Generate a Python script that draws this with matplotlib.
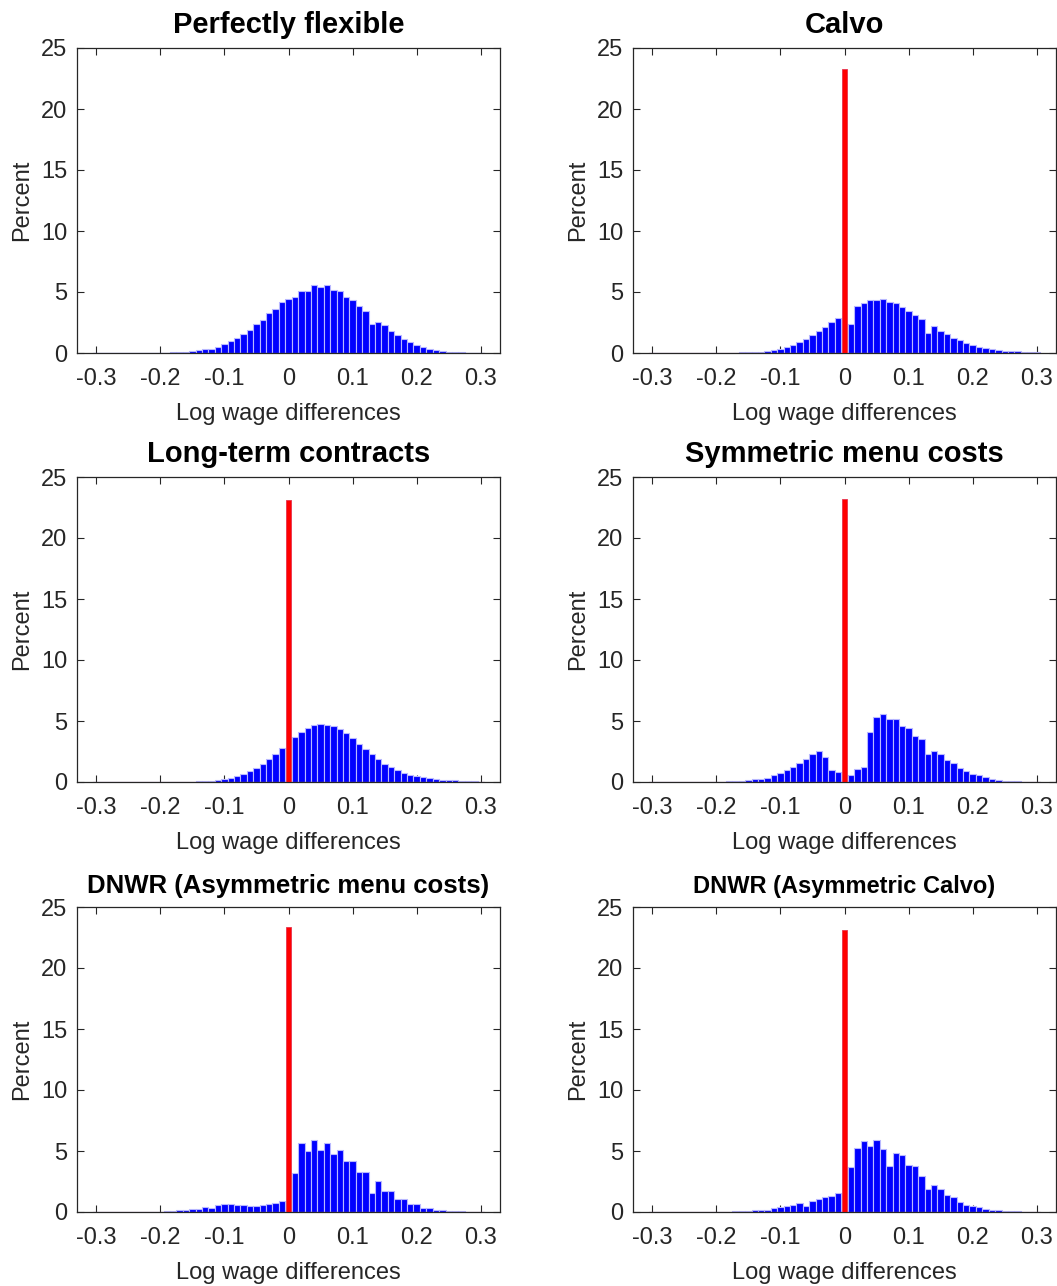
import numpy as np
import matplotlib
matplotlib.use("Agg")
import matplotlib.pyplot as plt

plt.rcParams['font.family'] = ['Liberation Sans', 'DejaVu Sans']

# ---- data -------------------------------------------------------------
bin_centers = np.linspace(-0.3, 0.3, 61)   # log wage difference bins (width 0.01)

titles = ["Perfectly flexible", "Calvo", "Long-term contracts",
          "Symmetric menu costs", "DNWR (Asymmetric menu costs)",
          "DNWR (Asymmetric Calvo)"]

flexible = [0.01, 0.01, 0.01, 0.01, 0.01, 0.01, 0.01, 0.01, 0.02, 0.02,
            0.02, 0.04, 0.05, 0.07, 0.10, 0.14, 0.22, 0.30, 0.30, 0.52,
            0.77, 0.96, 1.24, 1.57, 1.90, 2.34, 2.70, 3.24, 3.63, 4.15,
            4.45,
            4.59, 5.10, 5.10, 5.58, 5.38, 5.58, 5.14, 5.10, 4.60, 4.37,
            3.85, 3.43, 2.34, 2.55, 2.28, 1.79, 1.48, 1.13, 0.90, 0.69,
            0.49, 0.36, 0.25, 0.16, 0.11, 0.08, 0.06, 0.04, 0.03, 0.02]

calvo = [0.01, 0.01, 0.01, 0.01, 0.01, 0.01, 0.01, 0.01, 0.01, 0.02,
         0.02, 0.02, 0.02, 0.03, 0.05, 0.06, 0.08, 0.11, 0.14, 0.25,
         0.33, 0.49, 0.69, 0.90, 1.13, 1.48, 1.79, 2.14, 2.55, 2.88,
         0.00,
         2.36, 3.87, 4.07, 4.34, 4.31, 4.40, 4.20, 4.07, 3.76, 3.46,
         3.10, 2.75, 1.65, 2.20, 1.81, 1.54, 1.26, 1.04, 0.82, 0.66,
         0.52, 0.41, 0.33, 0.27, 0.19, 0.17, 0.14, 0.12, 0.10, 0.05]

long_term = [0.01, 0.01, 0.01, 0.01, 0.01, 0.01, 0.01, 0.01, 0.01, 0.01,
             0.01, 0.02, 0.02, 0.02, 0.03, 0.04, 0.05, 0.08, 0.11, 0.16,
             0.25, 0.33, 0.47, 0.66, 0.88, 1.18, 1.51, 1.90, 2.31, 2.77,
             0.00,
             3.68, 4.09, 4.42, 4.67, 4.75, 4.70, 4.62, 4.31, 3.98, 3.57,
             3.13, 2.69, 2.28, 1.87, 1.51, 1.24, 0.99, 0.74, 0.58, 0.47,
             0.38, 0.30, 0.25, 0.19, 0.16, 0.14, 0.11, 0.08, 0.06, 0.04]

symmetric_menu = [0.01, 0.01, 0.01, 0.01, 0.01, 0.01, 0.01, 0.01, 0.01, 0.01,
                  0.02, 0.04, 0.05, 0.08, 0.11, 0.16, 0.22, 0.27, 0.36, 0.57,
                  0.77, 0.98, 1.23, 1.53, 1.91, 2.30, 2.57, 2.05, 0.96, 0.82,
                  0.00,
                  0.60, 1.04, 1.26, 4.13, 5.30, 5.55, 5.16, 5.16, 4.62, 4.43,
                  3.80, 3.52, 2.32, 2.57, 2.32, 1.80, 1.56, 1.15, 0.93, 0.68,
                  0.55, 0.38, 0.25, 0.16, 0.11, 0.08, 0.06, 0.04, 0.03, 0.02]

dnwr_menu = [0.01, 0.01, 0.01, 0.01, 0.01, 0.01, 0.01, 0.01, 0.01, 0.01,
             0.02, 0.05, 0.08, 0.14, 0.16, 0.27, 0.27, 0.44, 0.33, 0.58,
             0.66, 0.63, 0.60, 0.55, 0.47, 0.47, 0.58, 0.69, 0.77, 0.91,
             0.00,
             3.21, 5.66, 4.97, 5.93, 5.05, 5.69, 4.75, 5.08, 4.15, 4.20,
             3.30, 3.24, 1.59, 2.55, 1.73, 1.73, 1.10, 1.04, 0.69, 0.63,
             0.36, 0.30, 0.16, 0.14, 0.08, 0.08, 0.05, 0.04, 0.03, 0.02]

dnwr_calvo = [0.01, 0.01, 0.01, 0.01, 0.01, 0.01, 0.01, 0.01, 0.01, 0.01,
              0.02, 0.03, 0.04, 0.08, 0.08, 0.11, 0.14, 0.19, 0.16, 0.30,
              0.38, 0.47, 0.55, 0.71, 0.52, 0.91, 1.04, 1.24, 1.35, 1.57,
              0.00,
              3.71, 5.27, 5.80, 5.38, 5.93, 5.14, 3.76, 4.81, 4.70, 3.87,
              3.79, 2.91, 1.92, 2.25, 1.92, 1.43, 1.21, 0.85, 0.55, 0.49,
              0.38, 0.25, 0.16, 0.14, 0.08, 0.06, 0.05, 0.03, 0.02, 0.01]

# mass of unchanged wages (spike at zero), percent
zero_spike = [0.0, 23.3, 23.1, 23.2, 23.4, 23.1]

x_ticks = [-0.3, -0.2, -0.1, 0, 0.1, 0.2, 0.3]
x_ticklabels = ["-0.3", "-0.2", "-0.1", "0", "0.1", "0.2", "0.3"]
y_ticks = [0, 5, 10, 15, 20, 25]

# ---- figure -----------------------------------------------------------
W, H = 1057, 1286
fig = plt.figure(figsize=(W / 100, H / 100), dpi=100)

series = [flexible, calvo, long_term, symmetric_menu, dnwr_menu, dnwr_calvo]
title_sizes = [21, 21, 21, 21, 18.5, 17]
title_pads = [11, 11, 11, 11, 10, 10]
lefts = [77, 633]
tops = [48, 477, 907]
aw, ah = 423, 305
dark = (0.15, 0.15, 0.15)

for i, (vals, title) in enumerate(zip(series, titles)):
    r, c = divmod(i, 2)
    ax = fig.add_axes([lefts[c] / W, 1 - (tops[r] + ah) / H, aw / W, ah / H])
    ax.bar(bin_centers, vals, width=0.01, color=(0, 0, 1),
           edgecolor=(0.72, 0.72, 1.0), linewidth=0.8, zorder=2)
    base_color = (0.1, 0.1, 0.7)
    if zero_spike[i] > 0:
        red = [zero_spike[i] if abs(b) < 1e-9 else 0.0 for b in bin_centers]
        ax.bar(bin_centers, red, width=0.009, color=(1, 0, 0),
               edgecolor=(0.9, 0.2, 0.3), linewidth=0.6, zorder=3)
        base_color = (0.5, 0.15, 0.4)
    # zero-height bins show as a thin baseline across the bin range
    ax.plot([bin_centers[0] - 0.005, bin_centers[-1] + 0.005], [0.04, 0.04],
            color=base_color, linewidth=0.8, zorder=4)
    ax.set_xlim(-0.33, 0.33)
    ax.set_ylim(0, 25)
    ax.set_xticks(x_ticks)
    ax.set_xticklabels(x_ticklabels)
    ax.set_yticks(y_ticks)
    ax.tick_params(direction='in', top=True, right=True, length=5,
                   width=0.8, labelsize=17, colors=dark, labelcolor=dark)
    ax.tick_params(axis='x', pad=11)
    ax.tick_params(axis='y', pad=7)
    for s in ax.spines.values():
        s.set_color(dark)
        s.set_linewidth(0.9)
    ax.set_xlabel("Log wage differences", fontsize=17, color=dark, labelpad=9)
    ax.set_ylabel("Percent", fontsize=17, color=dark, labelpad=6)
    ax.set_title(title, fontsize=title_sizes[i], fontweight='bold',
                 pad=title_pads[i])

fig.savefig("out.png", dpi=100)
